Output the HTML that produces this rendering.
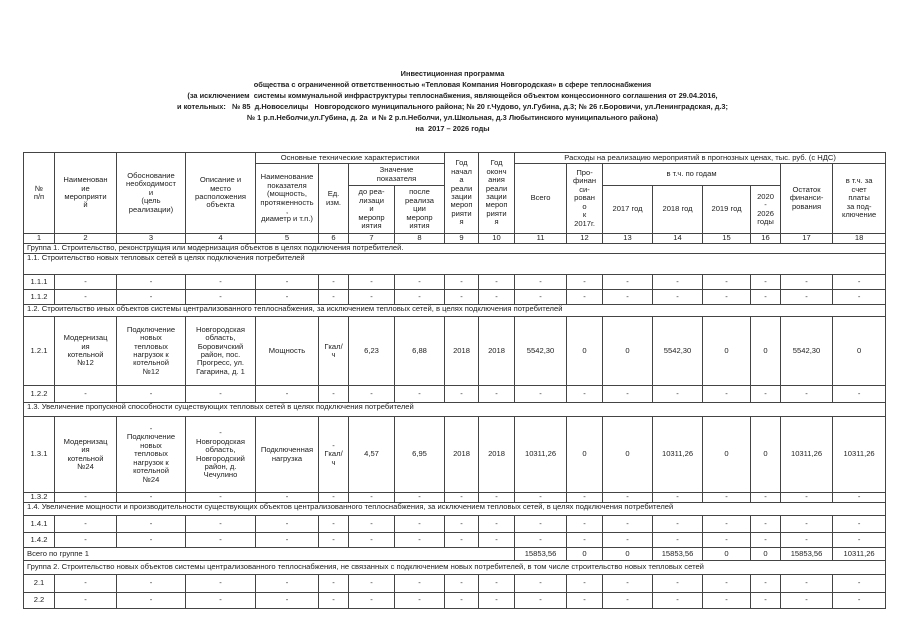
<!DOCTYPE html>
<html><head><meta charset="utf-8"><style>
body{margin:0;width:905px;height:640px;background:#fff;position:relative;overflow:hidden;font-family:"Liberation Sans",sans-serif;color:#222}
.t{position:absolute;left:0;width:905px;text-align:center;font-size:7.4px;font-weight:bold;line-height:11px;top:68px;white-space:pre}
table{position:absolute;left:23px;top:152px;border-collapse:collapse;table-layout:fixed;width:862px;font-size:7.6px;line-height:8.4px}
td{border:1px solid #444;text-align:center;vertical-align:middle;padding:0;overflow:hidden}
td.l{text-align:left;padding-left:3px;vertical-align:top;white-space:nowrap}
</style></head><body>
<div class="t">Инвестиционная программа
общества с ограниченной ответственностью «Тепловая Компания Новгородская» в сфере теплоснабжения
(за исключением  системы коммунальной инфраструктуры теплоснабжения, являющейся объектом концессионного соглашения от 29.04.2016,
и котельных:   № 85  д.Новоселицы   Новгородского муниципального района; № 20 г.Чудово, ул.Губина, д.3; № 26 г.Боровичи, ул.Ленинградская, д.3;
№ 1 р.п.Неболчи,ул.Губина, д. 2а  и № 2 р.п.Неболчи, ул.Школьная, д.3 Любытинского муниципального района)
на  2017 – 2026 годы</div>
<table>
<colgroup><col style="width:31px"><col style="width:62px"><col style="width:69px"><col style="width:70px"><col style="width:63px"><col style="width:30px"><col style="width:46px"><col style="width:50px"><col style="width:34px"><col style="width:36px"><col style="width:52px"><col style="width:36px"><col style="width:50px"><col style="width:50px"><col style="width:48px"><col style="width:30px"><col style="width:52px"><col style="width:53px"></colgroup>
<tr style="height:11px"><td rowspan="3">№<br>п/п</td><td rowspan="3">Наименован<br>ие<br>мероприяти<br>й</td><td rowspan="3">Обоснование<br>необходимост<br>и<br>(цель<br>реализации)</td><td rowspan="3">Описание и<br>место<br>расположения<br>объекта</td><td colspan="4">Основные технические характеристики</td><td rowspan="3">Год<br>начал<br>а<br>реали<br>зации<br>мероп<br>рияти<br>я</td><td rowspan="3">Год<br>оконч<br>ания<br>реали<br>зации<br>мероп<br>рияти<br>я</td><td colspan="8">Расходы на реализацию мероприятий в прогнозных ценах, тыс. руб. (с НДС)</td></tr>
<tr style="height:22px"><td rowspan="2">Наименование<br>показателя<br>(мощность,<br>протяженность<br>,<br>диаметр и т.п.)</td><td rowspan="2">Ед.<br>изм.</td><td colspan="2">Значение<br>показателя</td><td rowspan="2">Всего</td><td rowspan="2">Про-<br>финан<br>си-<br>рован<br>о<br>к<br>2017г.</td><td colspan="4">в т.ч. по годам</td><td rowspan="2">Остаток<br>финанси-<br>рования</td><td rowspan="2">в т.ч. за<br>счет<br>платы<br>за под-<br>ключение</td></tr>
<tr style="height:48px"><td>до реа-<br>лизаци<br>и<br>меропр<br>иятия</td><td>после<br>реализа<br>ции<br>меропр<br>иятия</td><td>2017 год</td><td>2018 год</td><td>2019 год</td><td>2020<br>-<br>2026<br>годы</td></tr>
<tr style="height:10px"><td>1</td><td>2</td><td>3</td><td>4</td><td>5</td><td>6</td><td>7</td><td>8</td><td>9</td><td>10</td><td>11</td><td>12</td><td>13</td><td>14</td><td>15</td><td>16</td><td>17</td><td>18</td></tr>
<tr style="height:10px"><td class="l" colspan="18">Группа 1. Строительство, реконструкция или модернизация объектов в целях подключения потребителей.</td></tr>
<tr style="height:21px"><td class="l" colspan="18">1.1. Строительство новых тепловых сетей в целях подключения потребителей</td></tr>
<tr style="height:15px"><td>1.1.1</td><td>-</td><td>-</td><td>-</td><td>-</td><td>-</td><td>-</td><td>-</td><td>-</td><td>-</td><td>-</td><td>-</td><td>-</td><td>-</td><td>-</td><td>-</td><td>-</td><td>-</td></tr>
<tr style="height:15px"><td>1.1.2</td><td>-</td><td>-</td><td>-</td><td>-</td><td>-</td><td>-</td><td>-</td><td>-</td><td>-</td><td>-</td><td>-</td><td>-</td><td>-</td><td>-</td><td>-</td><td>-</td><td>-</td></tr>
<tr style="height:12px"><td class="l" colspan="18">1.2. Строительство иных объектов системы централизованного теплоснабжения, за исключением тепловых сетей, в целях подключения потребителей</td></tr>
<tr style="height:69px"><td>1.2.1</td><td>Модернизац<br>ия<br>котельной<br>№12</td><td>Подключение<br>новых<br>тепловых<br>нагрузок к<br>котельной<br>№12</td><td>Новгородская<br>область,<br>Боровичский<br>район, пос.<br>Прогресс, ул.<br>Гагарина, д. 1</td><td>Мощность</td><td>Гкал/<br>ч</td><td>6,23</td><td>6,88</td><td>2018</td><td>2018</td><td>5542,30</td><td>0</td><td>0</td><td>5542,30</td><td>0</td><td>0</td><td>5542,30</td><td>0</td></tr>
<tr style="height:17px"><td>1.2.2</td><td>-</td><td>-</td><td>-</td><td>-</td><td>-</td><td>-</td><td>-</td><td>-</td><td>-</td><td>-</td><td>-</td><td>-</td><td>-</td><td>-</td><td>-</td><td>-</td><td>-</td></tr>
<tr style="height:14px"><td class="l" colspan="18">1.3. Увеличение пропускной способности существующих тепловых сетей в целях подключения потребителей</td></tr>
<tr style="height:76px"><td>1.3.1</td><td>Модернизац<br>ия<br>котельной<br>№24</td><td>-<br>Подключение<br>новых<br>тепловых<br>нагрузок к<br>котельной<br>№24</td><td>-<br>Новгородская<br>область,<br>Новгородский<br>район, д.<br>Чечулино</td><td>Подключенная<br>нагрузка</td><td>-<br>Гкал/<br>ч</td><td>4,57</td><td>6,95</td><td>2018</td><td>2018</td><td>10311,26</td><td>0</td><td>0</td><td>10311,26</td><td>0</td><td>0</td><td>10311,26</td><td>10311,26</td></tr>
<tr style="height:10px"><td>1.3.2</td><td>-</td><td>-</td><td>-</td><td>-</td><td>-</td><td>-</td><td>-</td><td>-</td><td>-</td><td>-</td><td>-</td><td>-</td><td>-</td><td>-</td><td>-</td><td>-</td><td>-</td></tr>
<tr style="height:13px"><td class="l" colspan="18">1.4. Увеличение мощности и производительности существующих объектов централизованного теплоснабжения, за исключением тепловых сетей, в целях подключения потребителей</td></tr>
<tr style="height:17px"><td>1.4.1</td><td>-</td><td>-</td><td>-</td><td>-</td><td>-</td><td>-</td><td>-</td><td>-</td><td>-</td><td>-</td><td>-</td><td>-</td><td>-</td><td>-</td><td>-</td><td>-</td><td>-</td></tr>
<tr style="height:15px"><td>1.4.2</td><td>-</td><td>-</td><td>-</td><td>-</td><td>-</td><td>-</td><td>-</td><td>-</td><td>-</td><td>-</td><td>-</td><td>-</td><td>-</td><td>-</td><td>-</td><td>-</td><td>-</td></tr>
<tr style="height:13px"><td class="l" colspan="10" style="vertical-align:middle">Всего по группе 1</td><td>15853,56</td><td>0</td><td>0</td><td>15853,56</td><td>0</td><td>0</td><td>15853,56</td><td>10311,26</td></tr>
<tr style="height:14px"><td class="l" colspan="18" style="vertical-align:middle">Группа 2. Строительство новых объектов системы централизованного теплоснабжения, не связанных с подключением новых потребителей, в том числе строительство новых тепловых сетей</td></tr>
<tr style="height:18px"><td>2.1</td><td>-</td><td>-</td><td>-</td><td>-</td><td>-</td><td>-</td><td>-</td><td>-</td><td>-</td><td>-</td><td>-</td><td>-</td><td>-</td><td>-</td><td>-</td><td>-</td><td>-</td></tr>
<tr style="height:16px"><td>2.2</td><td>-</td><td>-</td><td>-</td><td>-</td><td>-</td><td>-</td><td>-</td><td>-</td><td>-</td><td>-</td><td>-</td><td>-</td><td>-</td><td>-</td><td>-</td><td>-</td><td>-</td></tr>
</table>
</body></html>
